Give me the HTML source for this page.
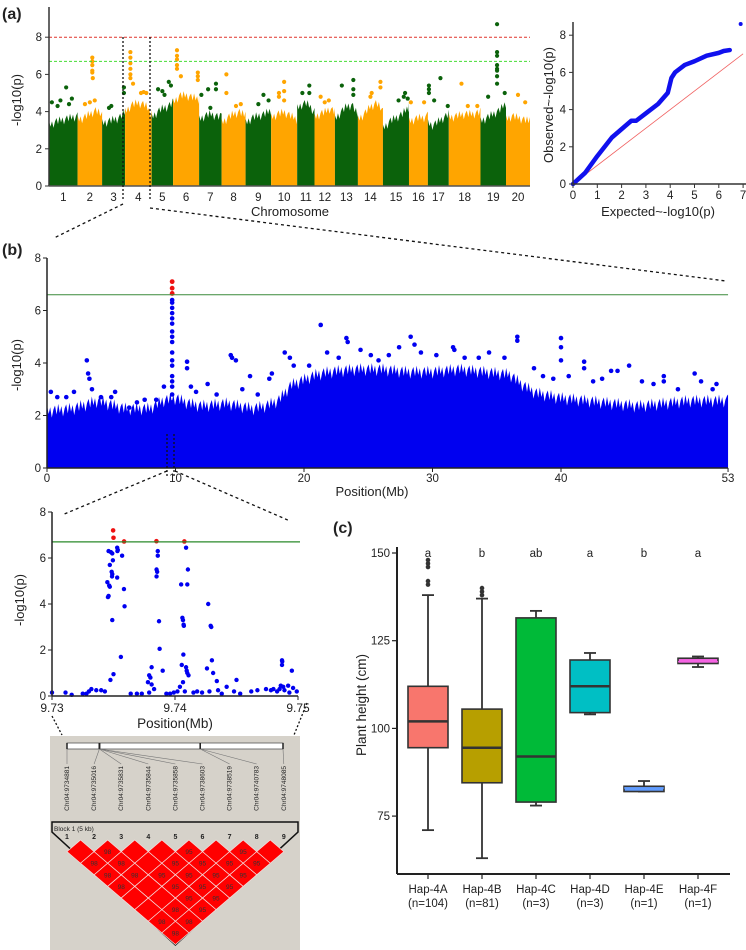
<!DOCTYPE html>
<html><head><meta charset="utf-8"><style>
html,body{margin:0;padding:0;background:#fff}
svg{display:block;font-family:"Liberation Sans",Arial,sans-serif}
</style></head><body>
<svg id="fig" width="746" height="950" viewBox="0 0 746 950" xmlns="http://www.w3.org/2000/svg"></svg>
<script>
// ---------- DATA ----------
const chrNames = ["1","2","3","4","5","6","7","8","9","10","11","12","13","14","15","16","17","18","19","20"];
const chrLen = [56,48,45,52,42,51,44,47,50,51,34,40,45,49,51,37,41,62,50,47];
const chrProfile = [
[3.5,3.7,3.8,3.9,4.0],[3.8,3.9,4.1,4.3,4.0],[3.6,3.7,3.8,3.9,4.2],[4.2,4.6,4.7,4.6,4.1],
[3.9,4.2,4.4,4.5,4.7],[4.7,5.1,5.1,5.0,4.9],[3.8,4.0,4.1,4.0,3.9],[3.6,3.9,4.1,4.2,4.0],
[3.6,3.9,4.0,4.1,4.3],[3.9,4.1,4.2,4.0,3.8],[4.4,4.6,4.7,4.5,4.2],[3.9,4.1,4.2,4.4,4.2],
[3.8,4.2,4.5,4.6,4.0],[3.8,4.1,4.5,4.7,4.2],[3.3,3.7,3.9,4.1,4.5],[3.7,3.8,3.9,3.9,4.0],
[3.6,3.5,3.7,3.9,4.1],[3.9,4.0,4.1,4.1,4.2],[3.7,3.9,4.1,4.3,4.7],[3.8,4.0,3.9,3.8,3.7]];
const chrPeaks = [
[[0.6,5.3],[0.4,4.6],[0.8,4.7],[0.1,4.5],[0.3,4.3],[0.7,4.4]],
[[0.6,6.9],[0.6,6.7],[0.6,6.5],[0.6,6.2],[0.6,6.1],[0.62,5.8],[0.7,4.6],[0.3,4.4],[0.5,4.5]],
[[0.95,5.3],[0.95,5.0],[0.4,4.3],[0.3,4.2]],
[[0.2,7.2],[0.2,6.9],[0.2,6.6],[0.2,6.3],[0.2,6.0],[0.2,5.8],[0.3,5.5],[0.6,5.0],[0.8,5.0],[0.7,5.05]],
[[0.8,5.6],[0.3,5.2],[0.5,5.1],[0.9,5.4],[0.6,4.9]],
[[0.15,7.3],[0.15,7.0],[0.15,6.8],[0.15,6.5],[0.15,6.3],[0.3,5.9],[0.95,6.1],[0.95,5.9],[0.95,5.7]],
[[0.4,5.2],[0.75,5.5],[0.75,5.2],[0.1,4.9],[0.5,4.2]],
[[0.2,6.0],[0.2,5.0],[0.6,4.3],[0.8,4.4]],
[[0.7,4.9],[0.9,4.6],[0.5,4.4]],
[[0.3,5.0],[0.5,5.6],[0.5,5.1],[0.5,4.6],[0.3,4.8]],
[[0.3,5.0],[0.7,5.4],[0.7,5.0]],
[[0.3,4.8],[0.7,4.6],[0.5,4.5]],
[[0.3,5.4],[0.8,5.7],[0.8,5.2],[0.8,4.9]],
[[0.55,5.0],[0.9,5.6],[0.9,5.3],[0.5,4.8]],
[[0.85,5.0],[0.95,4.7],[0.6,4.6],[0.8,4.8]],
[[0.1,4.5],[0.8,4.5]],
[[0.05,5.4],[0.05,5.2],[0.05,5.0],[0.3,4.6],[0.6,5.8],[0.95,4.3]],
[[0.4,5.5],[0.6,4.3],[0.9,4.3]],
[[0.65,8.7],[0.65,7.2],[0.65,7.0],[0.65,6.5],[0.65,6.3],[0.65,6.2],[0.65,5.9],[0.65,5.5],[0.95,5.0],[0.3,4.8]],
[[0.5,4.9],[0.8,4.5]]];
const manhTicks = [0,2,4,6,8];
const sigLine = 8, suggLine = 6.7;

const qqExp = [0,0.5,1,1.6,2.0,2.4,2.6,3.0,3.5,3.9,4.05,4.2,4.6,5.0,5.5,6.0,6.2,6.45];
const qqObs = [0,0.6,1.5,2.5,2.95,3.4,3.4,3.8,4.3,4.9,5.7,6.0,6.4,6.6,6.9,7.05,7.15,7.2];
const qqTop = [6.9,8.6];
const qqXTicks = [0,1,2,3,4,5,6,7];
const qqYTicks = [0,2,4,6,8];

const bPos = [0,2,4,6,8,9,10,11,12,14,16,17,18,19,20,21,22,24,26,28,30,32,34,36,37,38,40,42,44,46,48,50,52,53];
const bEnv = [2.4,2.5,2.8,2.5,2.5,2.8,2.9,2.7,2.6,2.7,2.5,2.6,2.8,3.4,3.6,3.8,3.9,4.0,4.0,3.9,3.9,4.0,3.9,3.8,3.4,3.1,2.9,2.8,2.7,2.6,2.7,2.8,2.8,2.8];
const bDotPos = [0.3,0.8,1.5,2.1,3.1,3.2,3.3,3.5,4.2,5.0,5.3,6.4,7.0,7.6,8.5,9.1,10.9,10.9,11.2,11.6,12.5,13.2,14.3,14.4,14.7,15.2,15.8,16.4,17.3,17.5,18.5,18.9,19.2,20.4,21.3,21.8,22.7,23.3,23.4,24.4,25.2,25.8,26.6,27.4,28.3,28.6,29.1,30.3,31.6,31.7,32.5,33.6,34.4,35.6,36.6,36.6,37.9,38.6,39.4,40.0,40.0,40.0,40.6,41.8,41.8,42.5,43.2,43.9,44.4,45.3,46.3,47.2,48.0,48.0,49.1,50.4,50.9,51.8,52.1];
const bDotVal = [2.9,2.7,2.7,2.9,4.1,3.6,3.4,3.0,2.7,2.7,2.9,2.3,2.5,2.6,2.6,3.1,4.05,3.8,3.1,2.9,3.2,2.8,4.3,4.2,4.1,3.0,3.5,2.8,3.4,3.6,4.4,4.2,3.9,3.9,5.45,4.4,4.2,4.95,4.8,4.5,4.3,4.1,4.3,4.6,5.0,4.7,4.4,4.3,4.6,4.5,4.2,4.2,4.4,4.2,5.0,4.85,3.8,3.5,3.4,4.95,4.6,4.1,3.5,4.05,3.8,3.3,3.4,3.7,3.7,3.9,3.3,3.2,3.5,3.3,3.0,3.6,3.3,3.0,3.2];
const bPeakVal = [2.5,2.8,3.1,3.3,3.5,3.9,4.1,4.4,4.8,5.0,5.2,5.5,5.7,5.9,6.1,6.3,6.4];
const bRedVal = [6.65,6.85,7.1];
const bXTicks = [0,10,20,30,40,53];
const bThresh = 6.6;

const zPos = [4.97,5.0,5.86,8.49,10.76];
const zRedVal = [7.2,6.88,6.72,6.73,6.72];
const zBluePos = [4.6,4.8,4.9,4.95,4.7,4.85,4.9,4.88,4.5,4.65,4.7,4.6,4.55,4.9,5.0,4.75,5.3,5.35,5.32,5.3,5.7,5.85,5.9,5.6,
8.6,8.6,8.5,8.55,8.5,8.7,8.75,8.1,9.0,7.9,8.0,7.8,8.1,8.3,
10.9,11.05,10.5,11.0,10.6,10.65,10.7,10.72,10.68,10.55,10.9,10.95,11.0,11.1,10.65,10.4,10.8,
12.7,12.9,12.95,13.0,12.6,13.1,13.4,13.5,12.8,
18.7,18.72,18.7,19.5,18.6,18.8,18.5,19.2,
0.0,1.1,1.6,2.5,2.8,3.0,3.2,3.6,4.0,4.3,6.4,6.9,7.3,7.9,9.3,9.6,9.9,10.2,11.5,11.8,12.2,13.8,14.2,14.8,15.0,15.3,16.2,16.7,17.4,17.8,18.0,18.3,18.9,19.3,19.6,19.9];
const zBlueVal = [6.3,6.25,6.2,5.9,5.7,5.4,5.3,5.2,4.95,4.8,4.75,4.35,4.3,3.3,0.95,0.7,6.45,6.35,6.3,5.15,6.1,4.65,3.9,1.7,
6.3,6.1,5.5,5.4,5.2,3.25,2.05,1.25,1.1,0.9,0.8,0.6,0.5,0.3,
6.45,5.5,4.85,4.85,3.4,3.3,3.1,3.05,1.8,1.35,1.25,1.1,1.0,0.9,0.6,0.4,0.2,
4.0,3.05,3.0,1.55,1.2,1.0,0.65,0.25,0.2,
1.55,1.5,1.35,1.1,0.45,0.4,0.3,0.45,
0.15,0.15,0.05,0.1,0.1,0.2,0.3,0.25,0.25,0.2,0.1,0.1,0.1,0.15,0.1,0.1,0.15,0.2,0.15,0.2,0.15,0.1,0.4,0.2,0.7,0.1,0.2,0.25,0.3,0.25,0.3,0.2,0.25,0.15,0.35,0.2];
const zXTicks = ["9.73","9.74","9.75"];
const zYTicks = [0,2,4,6,8];
const zThresh = 6.7;

const snpNames = ["Chr04:9734881","Chr04:9735016","Chr04:9735831","Chr04:9735844","Chr04:9735858","Chr04:9738603","Chr04:9738519","Chr04:9740783","Chr04:9748085"];
const snpBarPos = [0,0.45,0.45,0.45,0.45,0.45,1.85,1.85,3.0];
const ldRows = [
["","98","","","95","","95",""],
["98","98","","95","95","95","95"],
["98","98","95","95","95","95"],
["98","","95","95","95"],
["","","95","95"],
["","98","95"],
["98","98"],
["98"]];

const hapNames = ["Hap-4A","Hap-4B","Hap-4C","Hap-4D","Hap-4E","Hap-4F"];
const hapN = ["(n=104)","(n=81)","(n=3)","(n=3)","(n=1)","(n=1)"];
const hapLetters = ["a","b","ab","a","b","a"];
const hapColors = ["#f8766d","#b79f00","#00ba38","#00bfc4","#619cff","#f564e3"];
const boxLow = [71,63,78,104,82,117.5];
const boxQ1 = [94.5,84.5,79,104.5,82,118.5];
const boxMed = [102,94.5,92,112,83,119];
const boxQ3 = [112,105.5,131.5,119.5,83.5,120];
const boxHigh = [138,137,133.5,121.5,85,120.5];
const boxOutliers = [[141,142,146,147,148],[138,139,140]];
const boxTicks = [75,100,125,150];

// ---------- HELPERS ----------
const NS = "http://www.w3.org/2000/svg";
const svg = document.getElementById("fig");
function mk(tag, attrs, parent, txt){
  const e = document.createElementNS(NS, tag);
  for (const k in attrs) e.setAttribute(k, attrs[k]);
  if (txt !== undefined) e.textContent = txt;
  (parent || svg).appendChild(e);
  return e;
}
function grp(name){ const g = mk("g", {});   return g; }
function txt(g, x, y, s, size, anchor, extra){
  const a = {x:x, y:y, "font-size":size, fill:"#222", "text-anchor":anchor||"middle"};
  if (extra) for (const k in extra) a[k] = extra[k];
  return mk("text", a, g, s);
}
// jagged comb texture along an envelope (decorative edge only)
function jagged(pts, xs, xe, fn, yOf, stepPx){
  let k = 0;
  for (let x = xs; x <= xe; x += stepPx){
    const v = fn(x);
    const off = [0,0.35,0.1,0.5,0.2,0.05,0.4][k%7];
    pts.push([x, yOf(v - off)]);
    k++;
  }
}

// ---------- PANEL A: MANHATTAN ----------
(function(){
  const g = grp("manhattan-plot");
  const x0 = 49, x1 = 530, y0 = 186, py = 18.6;
  const total = chrLen.reduce((a,b)=>a+b,0);
  const sx = (x1-x0)/total;
  const Y = v => y0 - v*py;
  let acc = 0;
  chrLen.forEach((len,i)=>{
    const xs = x0 + acc*sx, xe = x0 + (acc+len)*sx;
    const col = i%2===0 ? "#0b620b" : "#ffa500";
    const prof = chrProfile[i];
    const fn = x => { const f = (x-xs)/(xe-xs)*(prof.length-1); const k = Math.min(prof.length-2, Math.floor(f)); const t = f-k; return prof[k]*(1-t)+prof[k+1]*t; };
    let pts = [[xs,y0]];
    jagged(pts, xs, xe, fn, Y, 1.5);
    pts.push([xe,Y(fn(xe))]);
    pts.push([xe,y0]);
    const p = mk("polygon",{points:pts.map(q=>q.join(",")).join(" "),fill:col},g);
    
    
    chrPeaks[i].forEach(pk=>{
      const c = mk("circle",{cx:xs+(xe-xs)*pk[0],cy:Y(pk[1]),r:2.1,fill:col},g);
      
      
    });
    const t = txt(g,(xs+xe)/2,201,chrNames[i],11.5);
    
    
    acc += len;
  });
  mk("line",{x1:x0,y1:Y(sigLine),x2:x1,y2:Y(sigLine),stroke:"#e0332b","stroke-width":1,"stroke-dasharray":"3,2"},g);
  mk("line",{x1:x0,y1:Y(suggLine),x2:x1,y2:Y(suggLine),stroke:"#44dd33","stroke-width":1,"stroke-dasharray":"3,2"},g);
  mk("line",{x1:x0,y1:7,x2:x0,y2:y0,stroke:"#333","stroke-width":1.5},g);
  mk("line",{x1:x0,y1:y0,x2:x1,y2:y0,stroke:"#555","stroke-width":1.5},g);
  manhTicks.forEach(v=>{
    mk("line",{x1:x0-4,y1:Y(v),x2:x0,y2:Y(v),stroke:"#333"},g);
    txt(g,x0-7,Y(v)+4,String(v),11.5,"end");
  });
  const yl = txt(g,0,0,"-log10(p)",13,"middle",{transform:"translate(21,100) rotate(-90)"});
   
  const xl = txt(g,290,216,"Chromosome",13);
   
  mk("line",{x1:123,y1:37,x2:123,y2:200,stroke:"#111","stroke-width":1.3,"stroke-dasharray":"2,2"},g);
  mk("line",{x1:150,y1:37,x2:150,y2:200,stroke:"#111","stroke-width":1.3,"stroke-dasharray":"2,2"},g);
  mk("line",{x1:123,y1:204,x2:54,y2:238,stroke:"#111","stroke-width":1.3,"stroke-dasharray":"3,3"},g);
  mk("line",{x1:150,y1:208,x2:726,y2:281,stroke:"#111","stroke-width":1.3,"stroke-dasharray":"3,3"},g);
  txt(g,2,19,"(a)",16,"start",{"font-weight":"bold"});
})();

// ---------- QQ PLOT ----------
(function(){
  const g = grp("qq-plot");
  const x0 = 573, y0 = 184, px = 24.3, py = 18.6;
  const X = v => x0 + v*px, Y = v => y0 - v*py;
  mk("line",{x1:X(0),y1:Y(0),x2:X(7),y2:Y(7),stroke:"#f06060","stroke-width":0.8},g);
  const pts = qqExp.map((e,i)=>X(e)+","+Y(qqObs[i])).join(" ");
  const pl = mk("polyline",{points:pts,fill:"none",stroke:"#1010ee","stroke-width":4.5,"stroke-linejoin":"round","stroke-linecap":"round"},g);
   
  const c = mk("circle",{cx:X(qqTop[0]),cy:Y(qqTop[1]),r:2,fill:"#1010ee"},g);
   
  mk("line",{x1:x0,y1:22,x2:x0,y2:y0,stroke:"#333","stroke-width":1.5},g);
  mk("line",{x1:x0,y1:y0,x2:746,y2:y0,stroke:"#333","stroke-width":1.5},g);
  qqXTicks.forEach(v=>{ mk("line",{x1:X(v),y1:y0,x2:X(v),y2:y0+4,stroke:"#333"},g); txt(g,X(v),199,String(v),11.5); });
  qqYTicks.forEach(v=>{ mk("line",{x1:x0-4,y1:Y(v),x2:x0,y2:Y(v),stroke:"#333"},g); txt(g,x0-7,Y(v)+4,String(v),11.5,"end"); });
  txt(g,0,0,"Observed~-log10(p)",13,"middle",{transform:"translate(553,105) rotate(-90)"});
  txt(g,658,216,"Expected~-log10(p)",13);
})();

// ---------- PANEL B: CHR4 ----------
(function(){
  const g = grp("chr4-manhattan-plot");
  const x0 = 47, y0 = 468, px = 12.85, py = 26.25;
  const X = v => x0 + v*px, Y = v => y0 - v*py;
  const fn = x => { const m = (x-x0)/px; let k = 0; while (k < bPos.length-2 && bPos[k+1] < m) k++; const t = Math.max(0,Math.min(1,(m-bPos[k])/(bPos[k+1]-bPos[k]))); return bEnv[k]*(1-t)+bEnv[k+1]*t; };
  let pts = [[X(0),y0]];
  jagged(pts, X(0), X(53), fn, Y, 1.6);
  pts.push([X(53),Y(bEnv[bEnv.length-1])]);
  pts.push([X(53),y0]);
  const poly = mk("polygon",{points:pts.map(q=>q.join(",")).join(" "),fill:"#0000f0"},g);
   
  bDotPos.forEach((p,i)=>{
    const c = mk("circle",{cx:X(p),cy:Y(bDotVal[i]),r:2.3,fill:"#0000f0"},g);
     
  });
  bPeakVal.forEach(v=>{
    const c = mk("circle",{cx:X(9.74),cy:Y(v),r:2.3,fill:"#0000f0"},g);
     
  });
  bRedVal.forEach(v=>{
    const c = mk("circle",{cx:X(9.74),cy:Y(v),r:2.4,fill:"#ee1111"},g);
     
  });
  mk("line",{x1:x0,y1:Y(bThresh),x2:X(53),y2:Y(bThresh),stroke:"#3a8a3a","stroke-width":1},g);
  mk("line",{x1:x0,y1:Y(8),x2:x0,y2:y0,stroke:"#222","stroke-width":1.5},g);
  mk("line",{x1:x0,y1:y0,x2:X(53),y2:y0,stroke:"#222","stroke-width":1.5},g);
  [0,2,4,6,8].forEach(v=>{ mk("line",{x1:x0-4,y1:Y(v),x2:x0,y2:Y(v),stroke:"#222"},g); txt(g,x0-6,Y(v)+4,String(v),11.5,"end"); });
  bXTicks.forEach(v=>{ mk("line",{x1:X(v),y1:y0,x2:X(v),y2:y0+4,stroke:"#222"},g); txt(g,X(v),482,String(v),11.5); });
  txt(g,0,0,"-log10(p)",13,"middle",{transform:"translate(21,365) rotate(-90)"});
  txt(g,372,496,"Position(Mb)",13);
  txt(g,2,255,"(b)",16,"start",{"font-weight":"bold"});
  mk("line",{x1:167,y1:434,x2:167,y2:476,stroke:"#111","stroke-width":1.3,"stroke-dasharray":"2,2"},g);
  mk("line",{x1:174,y1:434,x2:174,y2:476,stroke:"#111","stroke-width":1.3,"stroke-dasharray":"2,2"},g);
  mk("line",{x1:167,y1:471,x2:62,y2:515,stroke:"#111","stroke-width":1.3,"stroke-dasharray":"3,3"},g);
  mk("line",{x1:175,y1:471,x2:290,y2:521,stroke:"#111","stroke-width":1.3,"stroke-dasharray":"3,3"},g);
})();

// ---------- ZOOM PLOT ----------
(function(){
  const g = grp("region-zoom-plot");
  const x0 = 52, x1 = 298, y0 = 696, py = 23;
  const X = kb => x0 + kb/20*(x1-x0), Y = v => y0 - v*py;
  zBluePos.forEach((p,i)=>{
    const c = mk("circle",{cx:X(p),cy:Y(zBlueVal[i]),r:2.2,fill:"#0000f0"},g);
     
  });
  zPos.forEach((p,i)=>{
    const c = mk("circle",{cx:X(p),cy:Y(zRedVal[i]),r:2.3,fill:"#ee1111"},g);
     
  });
  mk("line",{x1:x0,y1:Y(zThresh),x2:x1+2,y2:Y(zThresh),stroke:"#2a8a2a","stroke-width":1.3},g);
  mk("line",{x1:x0,y1:Y(8),x2:x0,y2:y0,stroke:"#222","stroke-width":1.5},g);
  mk("line",{x1:x0,y1:y0,x2:x1,y2:y0,stroke:"#222","stroke-width":1.5},g);
  zYTicks.forEach(v=>{ mk("line",{x1:x0-4,y1:Y(v),x2:x0,y2:Y(v),stroke:"#222"},g); txt(g,x0-6,Y(v)+4,String(v),11.5,"end"); });
  zXTicks.forEach((t,i)=>{ const x = x0 + i*(x1-x0)/2; mk("line",{x1:x,y1:y0,x2:x,y2:y0+4,stroke:"#222"},g); txt(g,x,712,t,12); });
  txt(g,0,0,"-log10(p)",13,"middle",{transform:"translate(24,600) rotate(-90)"});
  txt(g,175,728,"Position(Mb)",13.5);
  mk("line",{x1:52,y1:716,x2:62,y2:735,stroke:"#111","stroke-width":1.3,"stroke-dasharray":"2,2"},g);
  mk("line",{x1:307,y1:703,x2:294,y2:735,stroke:"#111","stroke-width":1.3,"stroke-dasharray":"2,2"},g);
})();

// ---------- LD BLOCK ----------
(function(){
  const g = grp("ld-block-heatmap");
  mk("rect",{x:50,y:736,width:250,height:214,fill:"#d6d2ca"},g);
  const mx0 = 67, step = 27.1, gy = 746;
  mk("rect",{x:67,y:gy-3,width:216,height:6,fill:"#fff",stroke:"#555","stroke-width":0.8},g);
  snpNames.forEach((n,i)=>{
    const bx = 67 + snpBarPos[i]/3*216, lx = mx0 + i*step;
    mk("line",{x1:bx,y1:gy-3,x2:bx,y2:gy+3,stroke:"#222","stroke-width":1.5},g);
    mk("line",{x1:bx,y1:gy+3,x2:lx,y2:764,stroke:"#777","stroke-width":0.6},g);
    const t = txt(g,0,0,n,6.5,"end",{transform:"translate("+(lx+2)+",766) rotate(-90)"});
     
  });
  const h = step/2, v = h*0.857, yc0 = 851.6;
  mk("polygon",{points:"52,822 298,822 298,832 "+(mx0+4*step)+",945 52,832",fill:"none",stroke:"#111","stroke-width":1.5},g);
  txt(g,54,831,"Block 1 (5 kb)",6.5,"start");
  snpNames.forEach((n,i)=>txt(g,mx0+i*step,839,String(i+1),7,"middle",{"font-weight":"bold"}));
  ldRows.forEach((row,d)=>{
    row.forEach((val,i)=>{
      const cx = mx0 + (i + (d+1)/2)*step, cy = yc0 + d*v;
      const p = mk("polygon",{points:(cx)+","+(cy-v)+" "+(cx+h)+","+cy+" "+(cx)+","+(cy+v)+" "+(cx-h)+","+cy,fill:"#ff0000",stroke:"#f4dede","stroke-width":0.7},g);
       
      if (val) txt(g,cx,cy+2.5,val,6.5,"middle",{fill:"#333"});
    });
  });
})();

// ---------- PANEL C: BOXPLOT ----------
(function(){
  const g = grp("haplotype-boxplot");
  const ax = 397, y150 = 553, pu = 87.7/25, xr = 730;
  const Y = v => y150 + (150 - v)*pu;
  const cx = i => 428 + i*54, bw = 40;
  txt(g,333,533,"(c)",16,"start",{"font-weight":"bold"});
  mk("line",{x1:ax,y1:547,x2:ax,y2:874,stroke:"#222","stroke-width":2},g);
  mk("line",{x1:ax,y1:874,x2:xr,y2:874,stroke:"#222","stroke-width":2},g);
  boxTicks.forEach(v=>{ mk("line",{x1:ax-5,y1:Y(v),x2:ax,y2:Y(v),stroke:"#222","stroke-width":1.2},g); txt(g,ax-7,Y(v)+4,String(v),11.5,"end"); });
  txt(g,0,0,"Plant height (cm)",13.5,"middle",{transform:"translate(366,705) rotate(-90)"});
  hapNames.forEach((n,i)=>{
    const x = cx(i);
    const bg = mk("g",{},g);
    
    
    mk("line",{x1:x,y1:Y(boxHigh[i]),x2:x,y2:Y(boxLow[i]),stroke:"#333","stroke-width":1.8},bg);
    mk("line",{x1:x-6,y1:Y(boxHigh[i]),x2:x+6,y2:Y(boxHigh[i]),stroke:"#333","stroke-width":1.8},bg);
    mk("line",{x1:x-6,y1:Y(boxLow[i]),x2:x+6,y2:Y(boxLow[i]),stroke:"#333","stroke-width":1.8},bg);
    mk("rect",{x:x-bw/2,y:Y(boxQ3[i]),width:bw,height:Math.max(2,Y(boxQ1[i])-Y(boxQ3[i])),fill:hapColors[i],stroke:"#333","stroke-width":1.6},bg);
    mk("line",{x1:x-bw/2,y1:Y(boxMed[i]),x2:x+bw/2,y2:Y(boxMed[i]),stroke:i>=4?hapColors[i]:"#333","stroke-width":i>=4?1.2:2.5},bg);
    (boxOutliers[i]||[]).forEach(o=>{
      const c = mk("circle",{cx:x,cy:Y(o),r:2.3,fill:"#333"},bg);
       
    });
    txt(g,x,557,hapLetters[i],11.5);
    mk("line",{x1:x,y1:874,x2:x,y2:879,stroke:"#222","stroke-width":1.2},g);
    txt(g,x,893,n,11.5);
    txt(g,x,907,hapN[i],11.5);
  });
})();
</script>
</body></html>
